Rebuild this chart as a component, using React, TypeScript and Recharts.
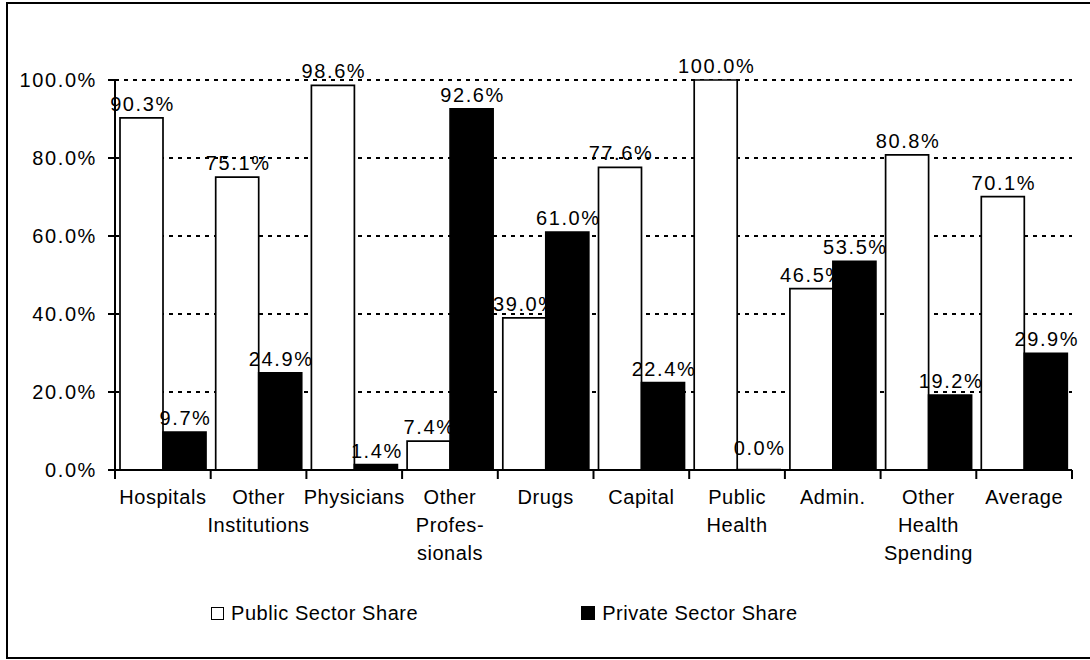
import { Bar, BarChart, CartesianGrid, LabelList, Legend, XAxis, YAxis } from 'recharts';

const categories = [
  'Hospitals',
  'Other\nInstitutions',
  'Physicians',
  'Other\nProfes-\nsionals',
  'Drugs',
  'Capital',
  'Public\nHealth',
  'Admin.',
  'Other\nHealth\nSpending',
  'Average',
];
const publicShare = [90.3, 75.1, 98.6, 7.4, 39.0, 77.6, 100.0, 46.5, 80.8, 70.1];
const privateShare = [9.7, 24.9, 1.4, 92.6, 61.0, 22.4, 0.0, 53.5, 19.2, 29.9];
const yTicks = [0, 20, 40, 60, 80, 100];
const seriesNames = ['Public Sector Share', 'Private Sector Share'];

const data = categories.map((name, i) => ({
  name,
  public: publicShare[i],
  private: privateShare[i],
}));

const WIDTH = 1090;
const HEIGHT = 660;
const MARGIN = { top: 80, right: 18, bottom: 70, left: 0 };
const Y_AXIS_WIDTH = 115;
const X_AXIS_HEIGHT = 120;
const BAND = (WIDTH - MARGIN.left - MARGIN.right - Y_AXIS_WIDTH) / categories.length;
const FONT = '"Liberation Sans", Arial, sans-serif';

const pct = (v: number) => `${Number(v).toFixed(1)}%`;

const CategoryTick = (props: any) => {
  const { x, y, payload, index } = props;
  const lines = String(payload.value).split('\n');
  const half = BAND / 2;
  return (
    <g>
      {index === 0 && <line x1={x - half} x2={x - half} y1={y} y2={y + 9} stroke='#000' strokeWidth={2} />}
      <line x1={x + half} x2={x + half} y1={y} y2={y + 9} stroke='#000' strokeWidth={2} />
      <text x={x} y={y + 34} textAnchor='middle' fontFamily={FONT} fontSize={20} letterSpacing={0.55} fill='#000'>
        {lines.map((line, i) => (
          <tspan key={i} x={x} dy={i === 0 ? 0 : 28}>
            {line}
          </tspan>
        ))}
      </text>
    </g>
  );
};

const ValueLabel = (props: any) => {
  const { x, y, width, height, value } = props;
  // zero-height bars get their label lifted a little, as in the source
  const lift = Math.abs(height) < 1 ? 15 : 7;
  return (
    <text
      x={x + width / 2 + 1}
      y={y + Math.min(height, 0) - lift}
      textAnchor='middle'
      fontFamily={FONT}
      fontSize={20}
      letterSpacing={1.6}
      fill='#000'
    >
      {pct(value)}
    </text>
  );
};

const LegendBox = () => (
  <div style={{ display: 'flex', alignItems: 'center', fontFamily: FONT, fontSize: 20, letterSpacing: 0.55, height: 24 }}>
    <div style={{ display: 'flex', alignItems: 'center', marginLeft: 211 }}>
      <span style={{ width: 13, height: 13, boxSizing: 'border-box', border: '1.5px solid #000', background: '#fff' }} />
      <span style={{ marginLeft: 7 }}>{seriesNames[0]}</span>
    </div>
    <div style={{ display: 'flex', alignItems: 'center', marginLeft: 163 }}>
      <span style={{ width: 14, height: 14, background: '#000' }} />
      <span style={{ marginLeft: 7 }}>{seriesNames[1]}</span>
    </div>
  </div>
);

export default function App() {
  return (
    <div style={{ position: 'fixed', left: 0, top: 0, width: WIDTH, height: HEIGHT, overflow: 'hidden', background: '#fff' }}>
      <div
        style={{
          position: 'absolute',
          left: 6,
          top: 2,
          width: 1200,
          height: 657,
          boxSizing: 'border-box',
          border: '2px solid #000',
        }}
      />
      <div style={{ position: 'absolute', left: 0, top: 0 }}>
        <BarChart width={WIDTH} height={HEIGHT} data={data} margin={MARGIN} barCategoryGap={5} barGap={0}>
          <CartesianGrid vertical={false} stroke='#000' strokeWidth={2} strokeDasharray='4 5' />
          <XAxis
            dataKey='name'
            height={X_AXIS_HEIGHT}
            interval={0}
            tickLine={false}
            tickSize={0}
            tickMargin={0}
            axisLine={{ stroke: '#000', strokeWidth: 2 }}
            tick={<CategoryTick />}
          />
          <YAxis
            width={Y_AXIS_WIDTH}
            domain={[0, 100]}
            ticks={yTicks}
            interval={0}
            tickFormatter={pct}
            tickSize={7}
            tickMargin={11}
            axisLine={{ stroke: '#000', strokeWidth: 2 }}
            tickLine={{ stroke: '#000', strokeWidth: 2 }}
            tick={{ fill: '#000', fontFamily: FONT, fontSize: 20, letterSpacing: 1.6 }}
          />
          <Legend
            layout='horizontal'
            verticalAlign='middle'
            align='center'
            wrapperStyle={{ top: 601, left: 0, width: WIDTH }}
            content={() => <LegendBox />}
          />
          <Bar dataKey='public' name={seriesNames[0]} fill='#fff' stroke='#000' strokeWidth={1.7} isAnimationActive={false}>
            <LabelList dataKey='public' content={<ValueLabel />} />
          </Bar>
          <Bar
            dataKey='private'
            name={seriesNames[1]}
            fill='#000'
            stroke='#000'
            strokeWidth={1.7}
            minPointSize={0.5}
            isAnimationActive={false}
          >
            <LabelList dataKey='private' content={<ValueLabel />} />
          </Bar>
        </BarChart>
      </div>
    </div>
  );
}
